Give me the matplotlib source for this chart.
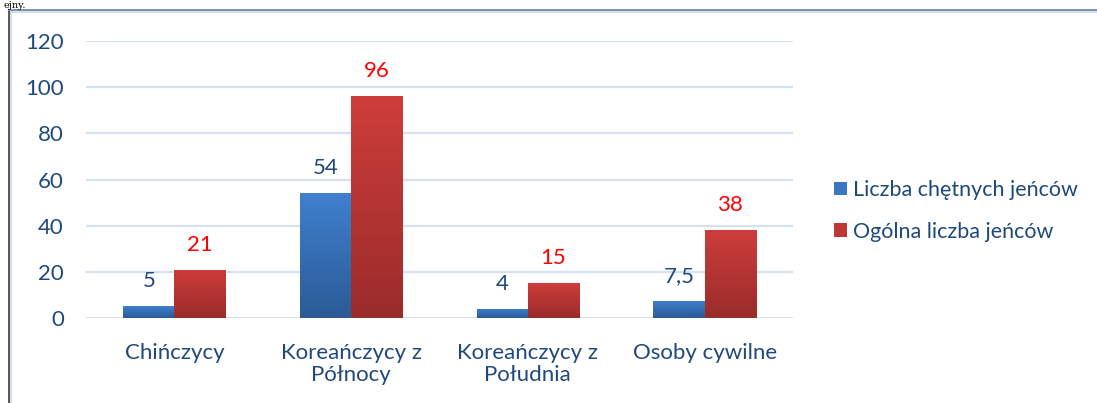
import numpy as np
import matplotlib
matplotlib.use("Agg")
import matplotlib.pyplot as plt
from matplotlib.patches import Patch
from matplotlib.lines import Line2D

# data
categories = ["Chińczycy", "Koreańczycy z\nPółnocy", "Koreańczycy z\nPołudnia", "Osoby cywilne"]
chetni = [5, 54, 4, 7.5]
ogolem = [21, 96, 15, 38]
chetni_labels = ["5", "54", "4", "7,5"]
ogolem_labels = ["21", "96", "15", "38"]
series_names = ["Liczba chętnych jeńców", "Ogólna liczba jeńców"]
yticks = [0, 20, 40, 60, 80, 100, 120]

txt = "#1F497D"
fs = 16
plt.rcParams['font.family'] = ['Lato', 'DejaVu Sans']

W, H = 1097, 403
fig = plt.figure(figsize=(W / 100, H / 100), dpi=100)
ax = fig.add_axes([86 / W, 1 - 318 / H, 707 / W, 277 / H])

x = np.arange(len(categories))
bw = 0.29


def grad_bars(xpos, vals, top, bottom):
    bars = ax.bar(xpos, vals, bw, color="none", zorder=3)
    cmap = matplotlib.colors.LinearSegmentedColormap.from_list("g", [bottom, top])
    g = np.linspace(0, 1, 100).reshape(-1, 1)
    for b in bars:
        x0, w, h = b.get_x(), b.get_width(), b.get_height()
        im = ax.imshow(g, cmap=cmap, origin="lower", aspect="auto",
                       extent=[x0, x0 + w, 0, h], zorder=3)
        im.set_clip_path(b)
    return bars


grad_bars(x - bw / 2, chetni, "#3F80CE", "#2B5B97")
grad_bars(x + bw / 2, ogolem, "#CD3D3B", "#9A2C2A")

for i in range(len(categories)):
    ax.annotate(chetni_labels[i], (x[i] - bw / 2, chetni[i]), xytext=(0, 25),
                textcoords="offset pixels", ha="center", va="center",
                color=txt, fontsize=fs)
    ax.annotate(ogolem_labels[i], (x[i] + bw / 2, ogolem[i]), xytext=(0, 25),
                textcoords="offset pixels", ha="center", va="center",
                color="#FF0000", fontsize=fs)

ax.set_xlim(-0.5, len(categories) - 0.5)
ax.set_ylim(0, 120)
ax.set_yticks(yticks)
ax.set_xticks(x)
ax.set_xticklabels(categories, linespacing=1.15)
ax.tick_params(axis="both", length=0, labelcolor=txt, labelsize=fs)
ax.tick_params(axis="y", pad=16)
ax.tick_params(axis="x", pad=18)
ax.grid(axis="y", color="#D6E1EF", lw=1.6, zorder=0)
for s in ax.spines.values():
    s.set_visible(False)

handles = [Patch(facecolor="#3A76C2"), Patch(facecolor="#BF3836")]
fig.legend(handles, series_names, loc="center left",
           bbox_to_anchor=(815 / W, 1 - 211 / H), frameon=False,
           handlelength=0.6, handleheight=0.6, handletextpad=0.25,
           labelspacing=1.0, fontsize=15.5, labelcolor=txt)

# chart frame from the document page
fig.add_artist(Line2D([9 / W, 9 / W], [0, 1 - 10 / H], color="#3A3A3A", lw=1.2))
fig.add_artist(Line2D([11 / W, 11 / W], [0, 1 - 12 / H], color="#C8D8EC", lw=1.2))
fig.add_artist(Line2D([9 / W, 1], [1 - 10 / H, 1 - 10 / H], color="#7F8FA6", lw=1.4))
fig.add_artist(Line2D([11 / W, 1], [1 - 12 / H, 1 - 12 / H], color="#C8D8EC", lw=1.2))
fig.text(4 / W, 1 - 1 / H, "ejny.", family="DejaVu Serif", fontsize=7,
         ha="left", va="top", color="black")

fig.savefig("out.png", dpi=100, facecolor="white")
